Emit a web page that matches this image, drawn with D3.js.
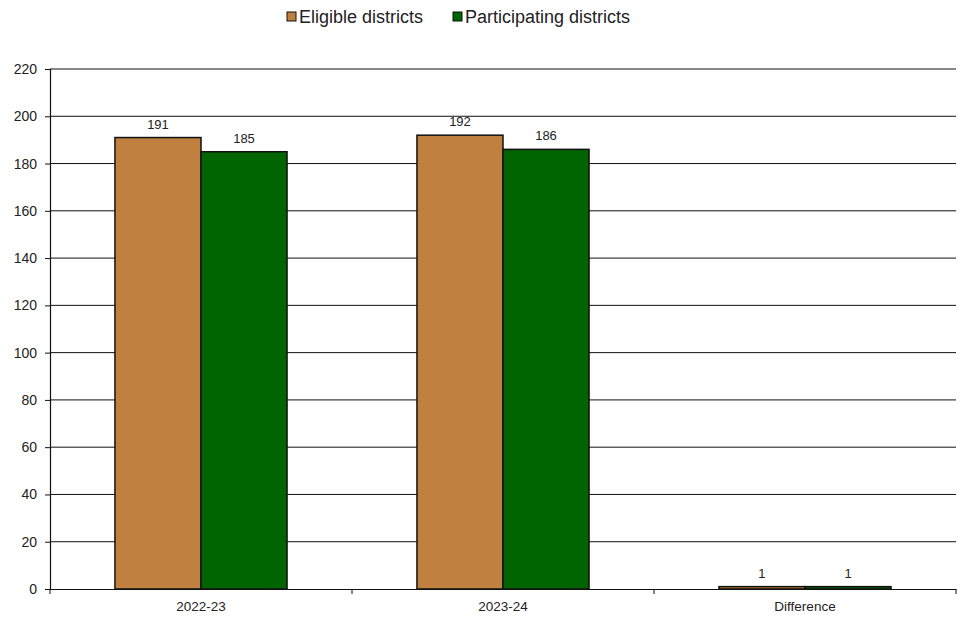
<!DOCTYPE html>
<html>
<head>
<meta charset="utf-8">
<script src="https://cdn.jsdelivr.net/npm/d3@7"></script>
<style>
  body { margin: 0; background: #fff; }
  text { font-family: "Liberation Sans", Arial, sans-serif; fill: #222; }
</style>
</head>
<body>
<div id="chart"></div>
<script>
// Chart data
const categories = ["2022-23", "2023-24", "Difference"];
const seriesNames = ["Eligible districts", "Participating districts"];
const eligible = [191, 192, 1];
const participating = [185, 186, 1];
const yTicks = [0, 20, 40, 60, 80, 100, 120, 140, 160, 180, 200, 220];

const width = 965,
    height = 625;
const margin = {top: 69, right: 9, bottom: 36, left: 50};

const colors = ["#c0803f", "#006400"];

const svg = d3.select("#chart")
    .append("svg")
    .attr("width", width)
    .attr("height", height);

const x0 = d3.scaleBand()
    .domain(categories)
    .range([margin.left, width - margin.right])
    .padding(0);

const x1 = d3.scaleBand()
    .domain(seriesNames)
    .range([0, x0.bandwidth()])
    .paddingInner(0)
    .paddingOuter(0.755);

const y = d3.scaleLinear()
    .domain([0, 220])
    .range([height - margin.bottom, margin.top]);

const rows = categories.map((c, i) => ({
    cat: c,
    values: [eligible[i], participating[i]]
}));

// Gridlines
svg.append("g")
    .selectAll("line")
    .data(yTicks.filter(d => d > 0))
    .enter()
    .append("line")
    .attr("x1", margin.left)
    .attr("x2", width - margin.right)
    .attr("y1", d => y(d))
    .attr("y2", d => y(d))
    .attr("stroke", "#111")
    .attr("stroke-width", 1);

// Bars
const groups = svg.append("g")
    .selectAll("g")
    .data(rows)
    .enter()
    .append("g")
    .attr("transform", d => "translate(" + x0(d.cat) + ",0)");

groups.selectAll("rect")
    .data(d => d.values.map((v, i) => ({name: seriesNames[i], value: v, i: i})))
    .enter()
    .append("rect")
    .attr("x", d => x1(d.name))
    .attr("width", x1.bandwidth())
    .attr("y", d => y(d.value))
    .attr("height", d => y(0) - y(d.value))
    .attr("fill", d => colors[d.i])
    .attr("stroke", "#111")
    .attr("stroke-width", 1.5);

// Value labels
groups.selectAll("text")
    .data(d => d.values.map((v, i) => ({name: seriesNames[i], value: v})))
    .enter()
    .append("text")
    .attr("x", d => x1(d.name) + x1.bandwidth() / 2)
    .attr("y", d => y(d.value) - 9)
    .attr("text-anchor", "middle")
    .style("font-size", "13px")
    .text(d => d.value);

// Y axis
const yAxis = svg.append("g")
    .attr("transform", "translate(" + margin.left + ",0)")
    .call(d3.axisLeft(y).tickValues(yTicks).tickSize(5).tickPadding(8));
yAxis.select(".domain").attr("stroke", "#111").attr("stroke-width", 1.2);
yAxis.selectAll("line").attr("stroke", "#111");
yAxis.selectAll("text").style("font-size", "14px").attr("fill", "#222");

// X axis
const xAxis = svg.append("g")
    .attr("transform", "translate(0," + y(0) + ")")
    .call(d3.axisBottom(x0).tickSize(0).tickPadding(12));
xAxis.select(".domain").attr("stroke", "#111").attr("stroke-width", 1.2);
xAxis.selectAll("text").style("font-size", "13.5px").attr("fill", "#222");

// Category boundary ticks
xAxis.selectAll(".bound")
    .data(categories.concat(["end"]))
    .enter()
    .append("line")
    .attr("class", "bound")
    .attr("x1", (d, i) => i < categories.length ? x0(d) : x0.range()[1])
    .attr("x2", (d, i) => i < categories.length ? x0(d) : x0.range()[1])
    .attr("y1", 0)
    .attr("y2", 5)
    .attr("stroke", "#111");

// Legend
const legendX = [287, 453];
const legend = svg.append("g")
    .selectAll("g")
    .data(seriesNames)
    .enter()
    .append("g")
    .attr("transform", (d, i) => "translate(" + legendX[i] + ",12)");

legend.append("rect")
    .attr("width", 9)
    .attr("height", 9)
    .attr("fill", (d, i) => colors[i])
    .attr("stroke", "#111");

legend.append("text")
    .attr("x", 12)
    .attr("y", 11)
    .style("font-size", "18px")
    .text(d => d);
</script>
</body>
</html>
